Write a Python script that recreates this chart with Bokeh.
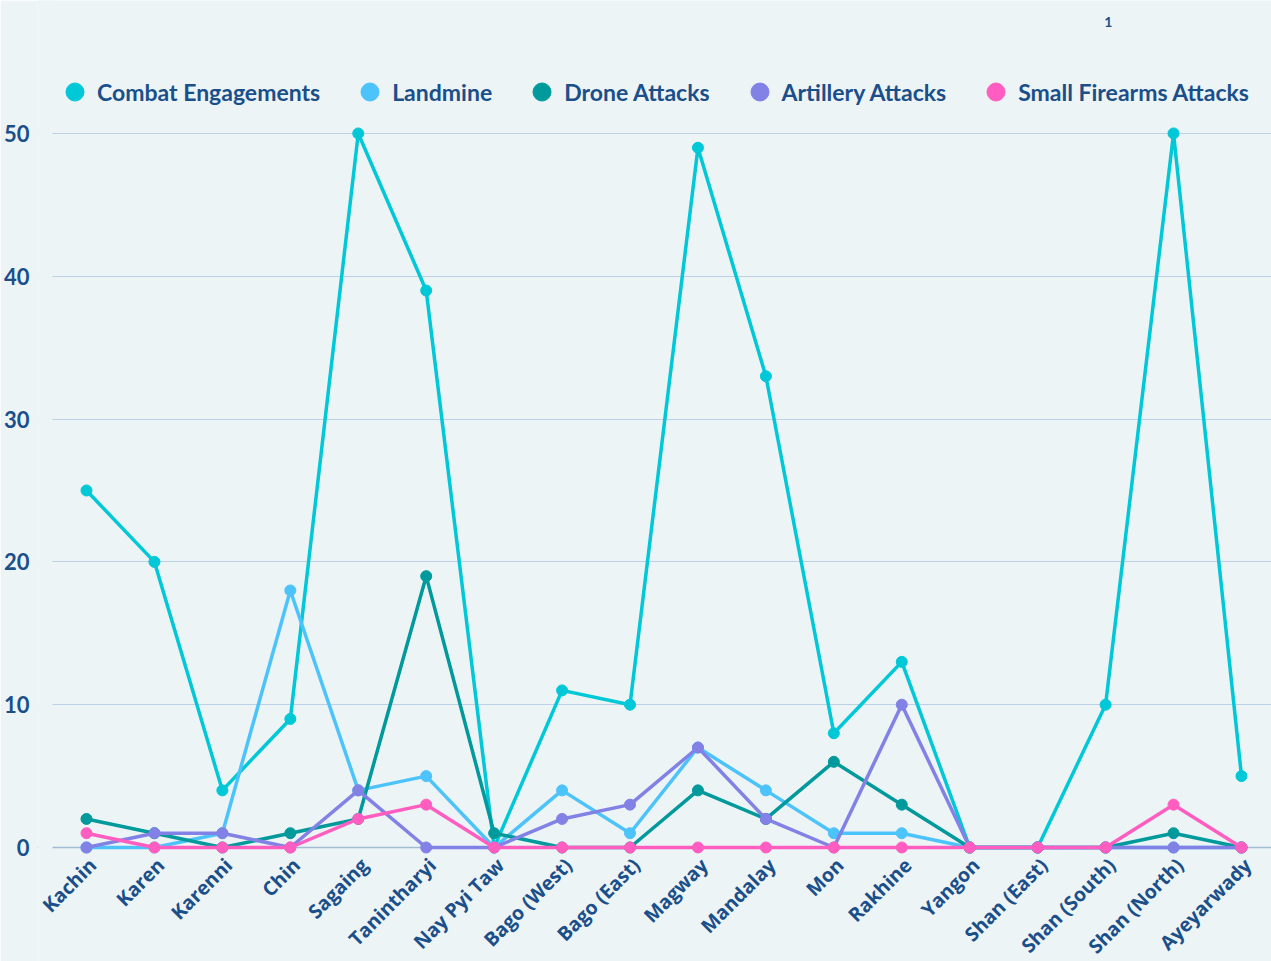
from math import pi
from bokeh.plotting import figure
from bokeh.models import Range1d, FixedTicker, Legend, LegendItem, Span, Label, BoxAnnotation
from bokeh.core.properties import value
from bokeh.embed import file_html
from bokeh.resources import INLINE

regions = ["Kachin", "Karen", "Karenni", "Chin", "Sagaing", "Tanintharyi", "Nay Pyi Taw",
           "Bago (West)", "Bago (East)", "Magway", "Mandalay", "Mon", "Rakhine", "Yangon",
           "Shan (East)", "Shan (South)", "Shan (North)", "Ayeyarwady"]

combat = [25, 20, 4, 9, 50, 39, 0, 11, 10, 49, 33, 8, 13, 0, 0, 10, 50, 5]
landmine = [0, 0, 1, 18, 4, 5, 0, 4, 1, 7, 4, 1, 1, 0, 0, 0, 0, 0]
drone = [2, 1, 0, 1, 2, 19, 1, 0, 0, 4, 2, 6, 3, 0, 0, 0, 1, 0]
artillery = [0, 1, 1, 0, 4, 0, 0, 2, 3, 7, 2, 0, 10, 0, 0, 0, 0, 0]
small_arms = [1, 0, 0, 0, 2, 3, 0, 0, 0, 0, 0, 0, 0, 0, 0, 0, 3, 0]

series_names = ["Combat Engagements", "Landmine", "Drone Attacks", "Artillery Attacks", "Small Firearms Attacks"]
series_values = [combat, landmine, drone, artillery, small_arms]
series_colors = ["#00c8d7", "#4cc3fb", "#00999c", "#8181e6", "#ff5ec0"]
y_ticks = [0, 10, 20, 30, 40, 50]

BG = "#edf4f6"
TXT = "#1a4f8a"

xs = list(range(len(regions)))

X_START = -0.7212     # frame begins a little left of the gridlines
GRID_START = -0.5004  # where the gridlines begin

p = figure(width=1271, height=961, output_backend="svg", toolbar_location=None,
           x_range=Range1d(X_START, 17.442), y_range=Range1d(-7.983, 59.31),
           min_border_left=37, min_border_right=0, min_border_top=0, min_border_bottom=0,
           background_fill_color=BG, border_fill_color=BG, outline_line_color=None)

p.xgrid.visible = False
p.xaxis.visible = False
p.ygrid.ticker = FixedTicker(ticks=y_ticks)
p.ygrid.grid_line_color = "#bdd1e6"
p.ygrid.grid_line_width = 1

p.yaxis.ticker = FixedTicker(ticks=y_ticks)
p.yaxis.axis_line_color = None
p.yaxis.major_tick_line_color = None
p.yaxis.minor_tick_line_color = None
p.yaxis.major_label_standoff = 2
p.yaxis.major_label_text_font = "Lato"
p.yaxis.major_label_text_font_style = "bold"
p.yaxis.major_label_text_font_size = "22px"
p.yaxis.major_label_text_color = TXT

zero_line = Span(location=0, dimension="width", line_color="#a3bad3", line_width=1.5, level="underlay")
p.add_layout(zero_line)
# keep the gridlines from starting right at the tick labels
p.add_layout(BoxAnnotation(left=X_START, right=GRID_START, fill_color=BG, fill_alpha=1,
                           line_color=None, level="underlay"))

# category labels along the bottom, rotated 45 degrees
p.text(x=xs, y=[0] * len(regions), text=regions, angle=pi / 4,
       text_align="right", text_baseline="middle", x_offset=6, y_offset=14,
       text_font=value("Open Sans"), text_font_style="bold", text_font_size="19.5px",
       text_color=TXT)

items = []
for name, vals, col in zip(series_names, series_values, series_colors):
    p.line(xs, vals, line_color=col, line_width=3.5)
    r = p.scatter(xs, vals, size=11, fill_color=col, line_color=col)
    items.append(LegendItem(label=name, renderers=[r]))

legend = Legend(items=items, orientation="horizontal", location=(15, 847),
                glyph_width=45, glyph_height=45, label_standoff=0, spacing=27,
                padding=0, margin=0, background_fill_alpha=0, border_line_color=None,
                label_text_font="Lato", label_text_font_style="bold",
                label_text_font_size="23px", label_text_color=TXT)
p.add_layout(legend, "center")

p.add_layout(Label(x=15.04, y=57.77, text="1",
                   text_font="Lato", text_font_style="bold", text_font_size="14px",
                   text_color=TXT, text_align="center", text_baseline="middle"))

open("out.html", "w").write(file_html(p, INLINE))
